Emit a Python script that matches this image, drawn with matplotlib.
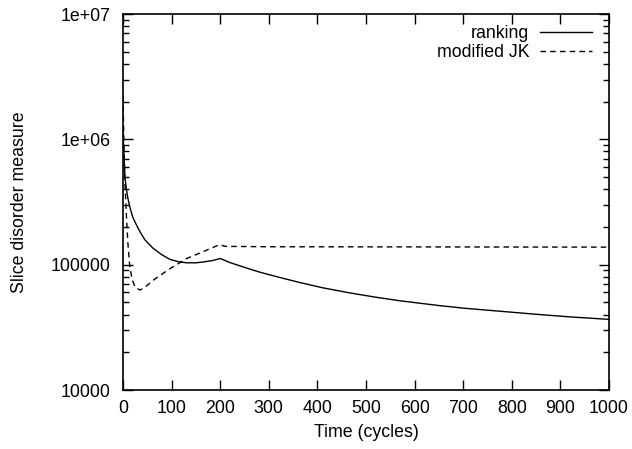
import numpy as np
import matplotlib.pyplot as plt
from matplotlib.ticker import FixedLocator, LogLocator, NullFormatter

plt.rcParams['font.family'] = ['Liberation Sans', 'DejaVu Sans']
plt.rcParams['font.size'] = 12.8

# Slice disorder over time for the two protocols
t_rank = [0, 2, 4, 7, 10, 14, 20, 27, 35, 45, 62, 80, 97, 115, 131, 150, 165,
          185, 200, 220, 240, 260, 282, 320, 364, 410, 467, 520, 570, 650, 700,
          776, 850, 920, 1000]
ranking = [1.2e6, 7.5e5, 5.0e5, 4.0e5, 3.4e5, 2.9e5, 2.4e5, 2.1e5, 1.83e5,
           1.58e5, 1.35e5, 1.2e5, 1.10e5, 1.055e5, 1.035e5, 1.035e5, 1.05e5,
           1.08e5, 1.12e5, 1.04e5, 9.8e4, 9.25e4, 8.7e4, 7.95e4, 7.2e4, 6.55e4,
           5.95e4, 5.5e4, 5.15e4, 4.72e4, 4.5e4, 4.25e4, 4.02e4, 3.83e4, 3.66e4]

t_jk = [0, 2, 4, 7.5, 10, 14, 19, 25, 35, 45, 62, 80, 97, 131, 165, 196, 200,
        210, 300, 1000]
modified_jk = [2.2e6, 9e5, 4.5e5, 2.27e5, 1.5e5, 9.6e4, 7.6e4, 6.6e4, 6.27e4,
               6.6e4, 7.5e4, 8.4e4, 9.3e4, 1.12e5, 1.27e5, 1.43e5, 1.44e5,
               1.40e5, 1.39e5, 1.38e5]

x_ticks = list(range(0, 1001, 100))
y_ticks = [1e4, 1e5, 1e6, 1e7]
y_labels = ['10000', '100000', '1e+06', '1e+07']

fig = plt.figure(figsize=(6.32, 4.49), dpi=100)
ax = fig.add_axes([0.1946, 0.1314, 0.769, 0.8374])

ax.plot(t_rank, ranking, color='black', lw=1.0, label='ranking')
ax.plot(t_jk, modified_jk, color='black', lw=1.0, dashes=(4, 3), label='modified JK')

ax.set_yscale('log')
ax.set_xlim(0, 1000)
ax.set_ylim(1e4, 1e7)
ax.xaxis.set_major_locator(FixedLocator(x_ticks))
ax.set_xticklabels([str(v) for v in x_ticks])
ax.yaxis.set_major_locator(FixedLocator(y_ticks))
ax.set_yticklabels(y_labels)
ax.yaxis.set_minor_locator(LogLocator(base=10, subs=np.arange(2, 10)))
ax.yaxis.set_minor_formatter(NullFormatter())

ax.tick_params(which='both', direction='in', top=True, right=True, width=1.0)
ax.tick_params(which='major', length=7, pad=7)
ax.tick_params(axis='y', which='major', pad=9)
ax.tick_params(which='minor', length=4)
for s in ax.spines.values():
    s.set_linewidth(1.2)

ax.set_xlabel('Time (cycles)', labelpad=5)
ax.set_ylabel('Slice disorder measure', labelpad=16)

ax.legend(loc='upper right', bbox_to_anchor=(0.976, 0.985), frameon=False,
          markerfirst=False, handlelength=2.9, borderaxespad=0,
          labelspacing=0.11, handletextpad=0.62, borderpad=0.3)

fig.savefig('out.png', dpi=100)
